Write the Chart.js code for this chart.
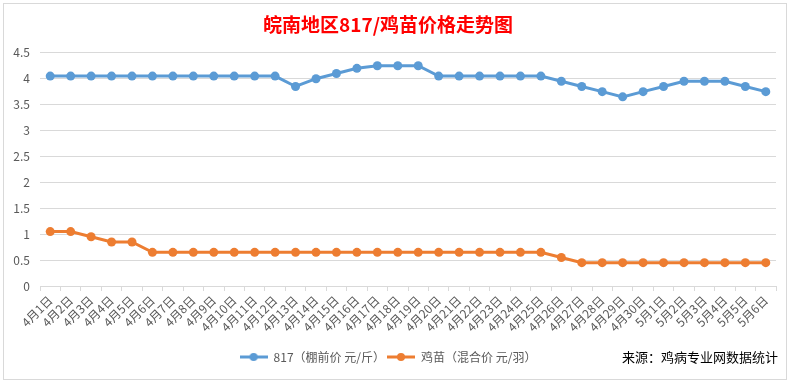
<!DOCTYPE html>
<html>
<head>
<meta charset="utf-8">
<script src="https://cdn.jsdelivr.net/npm/chart.js@4.4.1/dist/chart.umd.min.js"></script>
<style>
  html, body { margin: 0; padding: 0; background: #ffffff; }
  #wrap { position: relative; width: 793px; height: 383px; overflow: hidden; }
  #frame { position: absolute; left: 3px; top: 3px; width: 784px; height: 377px; border: 1px solid #d9d9d9; box-sizing: border-box; pointer-events: none; }
  #source { position: absolute; right: 15px; top: 348px; font: 13px "Noto Sans CJK SC", sans-serif; color: #000000; line-height: 18px; white-space: nowrap; }
  canvas { position: absolute; left: 0; top: 0; }
</style>
</head>
<body>
<div id="wrap">
  <canvas id="c" width="793" height="383"></canvas>
  <div id="frame"></div>
  <div id="source">来源：鸡病专业网数据统计</div>
</div>
<script>
const titleText = '皖南地区817/鸡苗价格走势图';
const categories = [
  '4月1日','4月2日','4月3日','4月4日','4月5日','4月6日','4月7日','4月8日','4月9日','4月10日',
  '4月11日','4月12日','4月13日','4月14日','4月15日','4月16日','4月17日','4月18日','4月19日','4月20日',
  '4月21日','4月22日','4月23日','4月24日','4月25日','4月26日','4月27日','4月28日','4月29日','4月30日',
  '5月1日','5月2日','5月3日','5月4日','5月5日','5月6日'
];
const seriesNames = ['817（棚前价 元/斤）', '鸡苗（混合价 元/羽）'];
const price817 = [
  4.05,4.05,4.05,4.05,4.05,4.05,4.05,4.05,4.05,4.05,
  4.05,4.05,3.85,4.0,4.1,4.2,4.25,4.25,4.25,4.05,
  4.05,4.05,4.05,4.05,4.05,3.95,3.85,3.75,3.65,3.75,
  3.85,3.95,3.95,3.95,3.85,3.75
];
const priceChick = [
  1.05,1.05,0.95,0.85,0.85,0.65,0.65,0.65,0.65,0.65,
  0.65,0.65,0.65,0.65,0.65,0.65,0.65,0.65,0.65,0.65,
  0.65,0.65,0.65,0.65,0.65,0.55,0.45,0.45,0.45,0.45,
  0.45,0.45,0.45,0.45,0.45,0.45
];
const yTicks = [0, 0.5, 1, 1.5, 2, 2.5, 3, 3.5, 4, 4.5];

const colors = ['#5b9bd5', '#ed7d31'];
const FONT = '"Noto Sans CJK SC", "Noto Sans", sans-serif';

function makeIcon(color) {
  const cv = document.createElement('canvas');
  cv.width = 28; cv.height = 10;
  const g = cv.getContext('2d');
  g.strokeStyle = color; g.lineWidth = 3;
  g.beginPath(); g.moveTo(0, 5); g.lineTo(28, 5); g.stroke();
  g.fillStyle = color;
  g.beginPath(); g.arc(14, 5, 4, 0, Math.PI * 2); g.fill();
  return cv;
}
const icons = colors.map(makeIcon);

new Chart(document.getElementById('c'), {
  type: 'line',
  data: {
    labels: categories,
    datasets: [
      { label: seriesNames[0], data: price817, borderColor: colors[0], backgroundColor: colors[0],
        borderWidth: 3, pointRadius: 4.5, pointBorderWidth: 0, pointBackgroundColor: colors[0], tension: 0 },
      { label: seriesNames[1], data: priceChick, borderColor: colors[1], backgroundColor: colors[1],
        borderWidth: 3, pointRadius: 4.5, pointBorderWidth: 0, pointBackgroundColor: colors[1], tension: 0 }
    ]
  },
  options: {
    responsive: false,
    animation: false,
    layout: { padding: { left: 0, right: 17, top: 13, bottom: 10 } },
    plugins: {
      title: {
        display: true, text: titleText, color: '#ff0000',
        font: { family: FONT, size: 19, weight: 'bold', lineHeight: 1.2 },
        padding: { top: 0, bottom: 17 }
      },
      legend: {
        position: 'bottom',
        labels: {
          color: '#595959', font: { family: FONT, size: 12 },
          usePointStyle: true, pointStyleWidth: 28, padding: 2,
          generateLabels(chart) {
            const items = Chart.defaults.plugins.legend.labels.generateLabels(chart);
            items.forEach((it, i) => { it.pointStyle = icons[i]; });
            return items;
          }
        }
      },
      tooltip: { enabled: false }
    },
    scales: {
      x: {
        offset: true,
        grid: { display: true, drawOnChartArea: false, drawTicks: true, tickLength: 5, color: '#d9d9d9', offset: true },
        border: { display: true, color: '#d9d9d9' },
        ticks: { color: '#595959', font: { family: FONT, size: 12 }, minRotation: 45, maxRotation: 45, autoSkip: false, padding: 2 },
        afterFit(s) { s.height = 63; }
      },
      y: {
        min: 0, max: 4.5,
        afterBuildTicks(s) { s.ticks = yTicks.map(v => ({ value: v })); },
        grid: { color: '#d9d9d9', drawTicks: false },
        border: { display: false },
        ticks: { color: '#595959', font: { family: FONT, size: 12 }, padding: 10,
          callback: (v) => String(v) },
        afterFit(s) { s.width = 40; }
      }
    }
  }
});
</script>
</body>
</html>
